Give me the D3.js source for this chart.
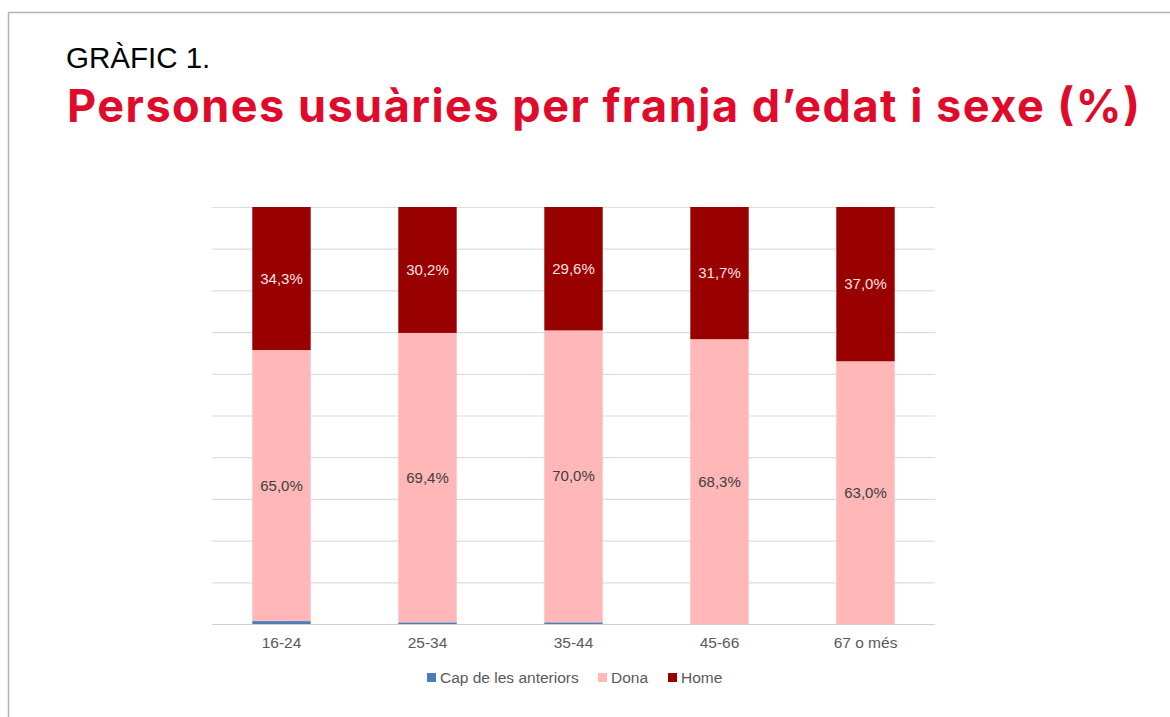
<!DOCTYPE html>
<html>
<head>
<meta charset="utf-8">
<script src="https://cdn.jsdelivr.net/npm/d3@7"></script>
<style>
body{margin:0;background:#fff;}
svg{display:block;}
</style>
</head>
<body>
<div id="chart"></div>
<script>
var w = 1170
var h = 717

var categories = ["16-24","25-34","35-44","45-66","67 o més"]
var cap = [0.7,0.4,0.4,0,0]
var dona = [65.0,69.4,70.0,68.3,63.0]
var home = [34.3,30.2,29.6,31.7,37.0]
var seriesNames = ["Cap de les anteriors","Dona","Home"]
var colors = ["#4a7ebb","#ffb7b7","#990000"]
var yTicks = [0,10,20,30,40,50,60,70,80,90,100]

var data = categories.map(function(c,i){
    return {cat:c, "Cap de les anteriors":cap[i], "Dona":dona[i], "Home":home[i]}
})

var svg = d3.select("#chart").append("svg").attr("width",w).attr("height",h)

// frame
svg.append("path")
    .attr("d","M8.5,717 L8.5,12.5 L1170,12.5")
    .attr("fill","none")
    .attr("stroke","#b3b3b3")
    .attr("stroke-width",1.5)

svg.append("text")
    .attr("x",66).attr("y",68)
    .style("font-family","Liberation Sans, Arial, sans-serif")
    .style("font-size","29.5px")
    .style("fill","#000")
    .text("GRÀFIC 1.")

svg.append("text")
    .attr("x",67).attr("y",122)
    .attr("textLength",1073)
    .attr("lengthAdjust","spacing")
    .style("font-family","Inter, sans-serif")
    .style("font-weight","700")
    .style("font-size","45px")
    .style("fill","#e00a2b")
    .text("Persones usuàries per franja d’edat i sexe (%)")

var yScale = d3.scaleLinear().domain([0,100]).range([624,207])
var xScale = d3.scaleBand().domain(categories).range([212,935])
    .paddingInner(0.6).paddingOuter(0.276)

// gridlines
svg.append("g")
    .selectAll("line")
    .data(yTicks)
    .enter()
    .append("line")
    .attr("x1",212).attr("x2",935)
    .attr("y1",function(d){ return yScale(d)+0.5 })
    .attr("y2",function(d){ return yScale(d)+0.5 })
    .attr("stroke",function(d){ return d==0 ? "#d0d0d0" : "#dddddd" })
    .attr("stroke-width",1.2)

var stack = d3.stack().keys(seriesNames)(data)

var layers = svg.selectAll(".layer")
    .data(stack)
    .enter()
    .append("g")
    .attr("class","layer")
    .attr("fill",function(d,i){ return colors[i] })

layers.selectAll("rect")
    .data(function(d){ return d })
    .enter()
    .append("rect")
    .attr("x",function(d){ return xScale(d.data.cat) })
    .attr("width",xScale.bandwidth())
    .attr("y",function(d){ return yScale(d[1]) })
    .attr("height",function(d){ return yScale(d[0])-yScale(d[1]) })

// value labels for Dona and Home
stack.slice(1).forEach(function(s,k){
    svg.append("g").selectAll("text")
        .data(s)
        .enter()
        .append("text")
        .attr("x",function(d){ return xScale(d.data.cat)+xScale.bandwidth()/2 })
        .attr("y",function(d){ return (yScale(d[0])+yScale(d[1]))/2 + 5 })
        .attr("text-anchor","middle")
        .style("font-family","Liberation Sans, Arial, sans-serif")
        .style("font-size","15px")
        .style("fill", k==0 ? "#404040" : "#fbe3e3")
        .text(function(d){ return (d[1]-d[0]).toFixed(1).replace(".",",")+"%" })
})

// x axis
var xAxis = svg.append("g")
    .attr("transform","translate(0,624)")
    .call(d3.axisBottom(xScale).tickSize(0).tickPadding(13))
xAxis.select(".domain").remove()
xAxis.selectAll("text")
    .style("font-family","Liberation Sans, Arial, sans-serif")
    .style("font-size","15.5px")
    .style("fill","#595959")

// legend
var legendX = [427,598,668]
var legend = svg.append("g")
legend.selectAll("rect")
    .data(seriesNames)
    .enter()
    .append("rect")
    .attr("x",function(d,i){ return legendX[i] })
    .attr("y",673)
    .attr("width",9).attr("height",9)
    .attr("fill",function(d,i){ return colors[i] })
legend.selectAll("text")
    .data(seriesNames)
    .enter()
    .append("text")
    .attr("x",function(d,i){ return legendX[i]+13 })
    .attr("y",683)
    .style("font-family","Liberation Sans, Arial, sans-serif")
    .style("font-size","15.5px")
    .style("fill","#595959")
    .text(function(d){ return d })
</script>
</body>
</html>
